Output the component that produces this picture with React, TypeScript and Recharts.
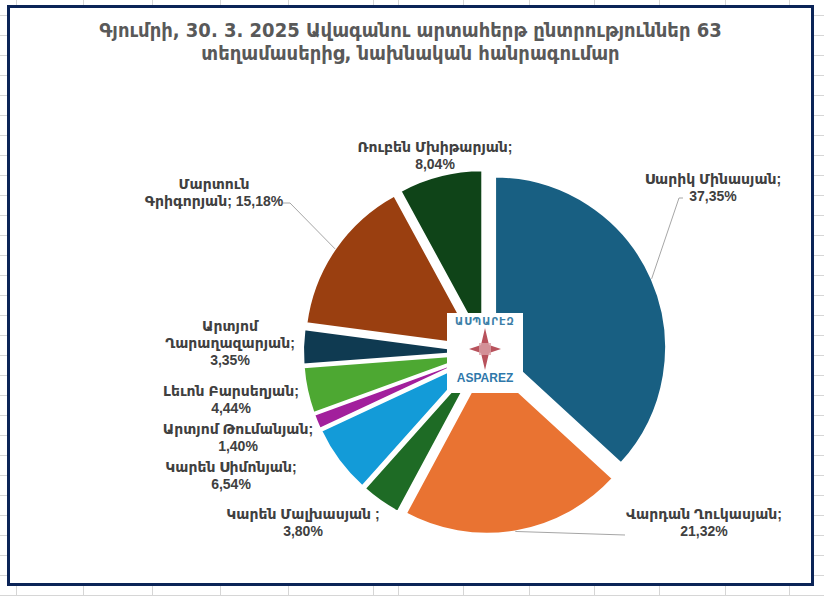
import React from 'react';
import { PieChart, Pie, Cell, Sector } from 'recharts';

// Gyumri council snap election, preliminary result from 63 precincts
const candidates = [
  'Սարիկ Մինասյան',
  'Վարդան Ղուկասյան',
  'Կարեն Մալխասյան',
  'Կարեն Սիմոնյան',
  'Արտյոմ Թումանյան',
  'Լեւոն Բարսեղյան',
  'Արտյոմ Ղարաղազարյան',
  'Մարտուն Գրիգորյան',
  'Ռուբեն Մխիթարյան',
];
const shares = [37.35, 21.32, 3.8, 6.54, 1.4, 4.44, 3.35, 15.18, 8.04];
const shareText = ['37,35%', '21,32%', '3,80%', '6,54%', '1,40%', '4,44%', '3,35%', '15,18%', '8,04%'];
const labelLines = [
  ['Սարիկ Մինասյան;', '37,35%'],
  ['Վարդան Ղուկասյան;', '21,32%'],
  ['Կարեն Մալխասյան ;', '3,80%'],
  ['Կարեն Սիմոնյան;', '6,54%'],
  ['Արտյոմ Թումանյան;', '1,40%'],
  ['Լեւոն Բարսեղյան;', '4,44%'],
  ['Արտյոմ', 'Ղարաղազարյան;', '3,35%'],
  ['Մարտուն', 'Գրիգորյան; 15,18%'],
  ['Ռուբեն Մխիթարյան;', '8,04%'],
];
const colors = ['#185f82', '#e97332', '#1e6b25', '#139bd8', '#a21f9c', '#4da832', '#0f3a51', '#9a3f10', '#0f4418'];

const data = candidates.map((name, i) => ({ name, value: shares[i], pct: shareText[i] }));

const CX = 485;
const CY = 352;
const R = 171;
const EXPLODE = 11;
const MARGIN = 5; // recharts default chart margin
const RAD = Math.PI / 180;

// label block centre and optional leader end, relative to pie centre
const labelPos: { x: number; y: number; leader?: number[][] }[] = [
  { x: 228, y: -165, leader: [[194, -154], [198, -154]] },
  { x: 219, y: 170, leader: [[140, 183]] },
  { x: -182, y: 170 },
  { x: -254, y: 123 },
  { x: -247, y: 85 },
  { x: -254, y: 47 },
  { x: -255, y: -9 },
  { x: -271, y: -160, leader: [[-195, -149], [-202, -149]] },
  { x: -50, y: -197 },
];

const gridCols = [16, 83, 152, 220, 288, 373, 398, 463, 529, 594, 659, 725, 789];

const labelFont = '"Liberation Sans", Arial, "DejaVu Sans", sans-serif';

function ExplodedSlice(props: any) {
  const { cx, cy, midAngle, innerRadius, outerRadius, startAngle, endAngle, fill } = props;
  const dx = EXPLODE * Math.cos(-midAngle * RAD);
  const dy = EXPLODE * Math.sin(-midAngle * RAD);
  return (
    <Sector
      cx={cx + dx}
      cy={cy + dy}
      innerRadius={innerRadius}
      outerRadius={outerRadius}
      startAngle={startAngle}
      endAngle={endAngle}
      fill={fill}
      stroke="#ffffff"
      strokeWidth={2}
    />
  );
}

function renderLabel(props: any) {
  const { cx, cy, midAngle, outerRadius, index } = props;
  const pos = labelPos[index];
  const lines = labelLines[index];
  const lh = 17;
  const x = cx + pos.x;
  const top = cy + pos.y - ((lines.length - 1) * lh) / 2;
  const rr = outerRadius + EXPLODE;
  const sx = cx + rr * Math.cos(-midAngle * RAD);
  const sy = cy + rr * Math.sin(-midAngle * RAD);
  return (
    <g key={`lab-${index}`}>
      {pos.leader && (
        <polyline
          points={[[sx, sy], ...pos.leader.map(([lx, ly]) => [cx + lx, cy + ly])]
            .map((p) => p.join(','))
            .join(' ')}
          fill="none"
          stroke="#a6a6a6"
          strokeWidth={1}
        />
      )}
      <text
        x={x}
        y={top}
        textAnchor="middle"
        fill="#404040"
        fontFamily={labelFont}
        fontWeight="bold"
        fontSize={14}
      >
        {lines.map((ln, j) => (
          <tspan key={j} x={x} y={top + j * lh} dominantBaseline="central">
            {ln}
          </tspan>
        ))}
      </text>
    </g>
  );
}

function Logo() {
  return (
    <div
      style={{
        position: 'absolute',
        left: CX - 38,
        top: CY - 39,
        width: 76,
        height: 80,
        background: '#ffffff',
        textAlign: 'center',
        fontFamily: '"DejaVu Sans", sans-serif',
      }}
    >
      <div style={{ color: '#3c7fa8', fontSize: 10, fontWeight: 'bold', letterSpacing: 1, marginTop: 3 }}>
        ԱՍՊԱՐԷԶ
      </div>
      <svg width={40} height={44} viewBox="-20 -22 40 44" style={{ display: 'block', margin: '0 auto' }}>
        <path d="M0,-21 L4,-4 L16,0 L4,4 L0,21 L-4,4 L-16,0 L-4,-4 Z" fill="#b8525c" />
        <path d="M-6,-6 L6,-6 L6,6 L-6,6 Z" fill="#d9a0a6" opacity={0.8} />
      </svg>
      <div style={{ color: '#2f78aa', fontSize: 12, fontWeight: 'bold', marginTop: 0, fontFamily: labelFont }}>
        ASPAREZ
      </div>
    </div>
  );
}

export default function App() {
  return (
    <div
      style={{
        position: 'absolute',
        left: 0,
        top: 0,
        width: 824,
        height: 596,
        background: '#ffffff',
        backgroundImage: 'linear-gradient(#d6d6d6 1px, transparent 1px)',
        backgroundSize: '100% 20px',
        backgroundPosition: '0 15px',
        overflow: 'hidden',
      }}
    >
      <svg width={824} height={596} style={{ position: 'absolute', left: 0, top: 0 }}>
        {gridCols.map((gx) => (
          <line key={gx} x1={gx + 0.5} x2={gx + 0.5} y1={0} y2={596} stroke="#d6d6d6" strokeWidth={1} />
        ))}
      </svg>
      <div
        style={{
          position: 'absolute',
          left: 7,
          top: 5,
          width: 807,
          height: 581,
          boxSizing: 'border-box',
          border: '3px solid #0b2457',
          background: '#ffffff',
        }}
      />
      <div
        style={{
          position: 'absolute',
          left: 10,
          top: 19,
          width: 801,
          textAlign: 'center',
          color: '#595959',
          fontFamily: '"DejaVu Sans Condensed", "DejaVu Sans", sans-serif',
          fontStretch: 'condensed',
          fontWeight: 'bold',
          fontSize: 20,
          lineHeight: '23px',
        }}
      >
        Գյումրի, 30. 3. 2025 Ավագանու արտահերթ ընտրություններ 63
        <br />
        տեղամասերից, նախնական հանրագումար
      </div>
      <div style={{ position: 'absolute', left: 0, top: 0 }}>
        <PieChart width={824} height={596}>
          <Pie
            data={data}
            dataKey="value"
            nameKey="name"
            cx={CX - MARGIN}
            cy={CY - MARGIN}
            outerRadius={R}
            startAngle={90}
            endAngle={-270}
            shape={ExplodedSlice}
            label={renderLabel}
            labelLine={false}
            isAnimationActive={false}
          >
            {data.map((d, i) => (
              <Cell key={d.name} fill={colors[i]} />
            ))}
          </Pie>
        </PieChart>
      </div>
      <Logo />
    </div>
  );
}
